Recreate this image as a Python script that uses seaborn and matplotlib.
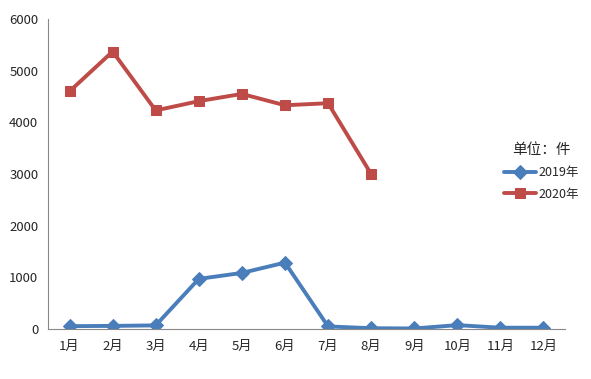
import pandas as pd
import numpy as np
import seaborn as sns
import matplotlib.pyplot as plt

# 数据
months = ['1月', '2月', '3月', '4月', '5月', '6月', '7月', '8月', '9月', '10月', '11月', '12月']
v2019 = [55, 60, 70, 970, 1085, 1285, 50, 15, 10, 75, 25, 25]
v2020 = [4600, 5370, 4230, 4410, 4550, 4330, 4370, 3000]

df = pd.concat([
    pd.DataFrame({'idx': range(len(v2019)), 'value': v2019, 'year': '2019年'}),
    pd.DataFrame({'idx': range(len(v2020)), 'value': v2020, 'year': '2020年'}),
])

sns.set_style('white')
plt.rcParams['font.family'] = ['Noto Sans CJK SC', 'DejaVu Sans']

fig = plt.figure(figsize=(5.91, 3.79), dpi=100)
ax = fig.add_axes([48/591, 1 - 329/379, 517/591, 310/379])

sns.lineplot(data=df, x='idx', y='value', hue='year', style='year',
             markers={'2019年': 'D', '2020年': 's'}, dashes=False,
             palette={'2019年': '#4a7ebb', '2020年': '#be4b48'},
             linewidth=2.8, markersize=7, ax=ax)

# 标记边框与线同色
for line in ax.lines:
    line.set_markeredgecolor(line.get_color())

ax.set_xlim(-0.5, 11.5)
ax.set_ylim(0, 6000)
ax.set_yticks(range(0, 6001, 1000))
ax.set_xticks(range(12))
ax.set_xticklabels(months)
ax.set_xticks(np.arange(-0.5, 12, 1), minor=True)
ax.tick_params(axis='x', which='major', length=0, pad=8, labelsize=9.5)
ax.tick_params(axis='x', which='minor', length=5, color='#888888', width=0.8)
ax.tick_params(axis='y', length=4, color='#888888', width=0.8, labelsize=9.5, pad=3)
ax.set_xlabel('')
ax.set_ylabel('')

for s in ['top', 'right']:
    ax.spines[s].set_visible(False)
for s in ['left', 'bottom']:
    ax.spines[s].set_color('#888888')
    ax.spines[s].set_linewidth(0.8)

leg = ax.legend(title='单位：件', loc='center left', bbox_to_anchor=(495/591, 1 - 172/379),
                bbox_transform=fig.transFigure, frameon=False, fontsize=9,
                title_fontsize=10.5, handlelength=2.6, handletextpad=0.2, labelspacing=0.7,
                borderpad=0.2)
leg._legend_box.align = 'center'
for h in leg.legend_handles:
    h.set_markeredgecolor(h.get_color())

fig.savefig('out.png', dpi=100)
